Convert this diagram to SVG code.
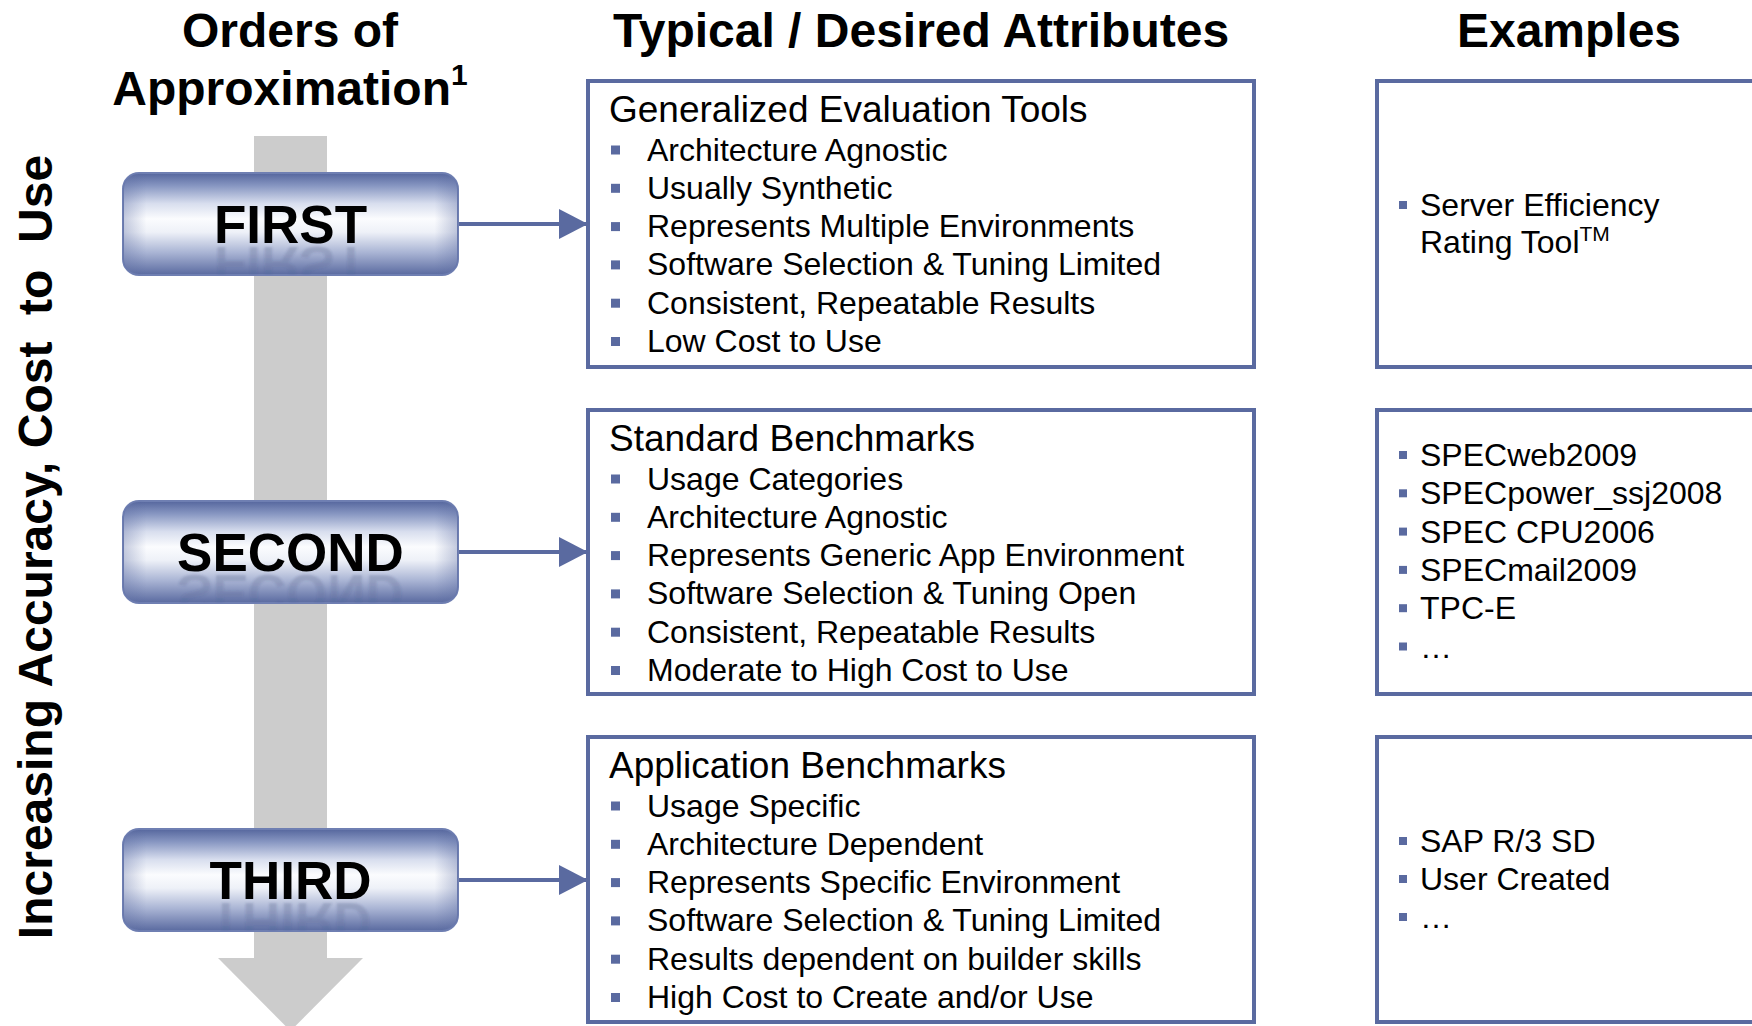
<svg xmlns="http://www.w3.org/2000/svg" width="1752" height="1026" viewBox="0 0 1752 1026">
<defs>
<style>
text{font-family:"Liberation Sans",Arial,Helvetica,sans-serif;fill:#000}
.hdr{font-weight:bold;font-size:48px;text-anchor:middle}
.side{font-weight:bold;font-size:48px;text-anchor:middle;white-space:pre}
.lvl{font-weight:bold;font-size:53px;text-anchor:middle}
.refl{fill:#3a4670;opacity:0.3}
.ttl{font-size:37px}
.itm{font-size:32px}
.ex{font-size:32px}
.box{fill:#fff;stroke:#5a6aa0;stroke-width:4}
.blt{fill:#5a6aa0}
.conn{stroke:#5a6aa0;stroke-width:4;fill:none}
.btn{fill:url(#btnV);stroke:#6f7fb2;stroke-width:2}
</style>
<linearGradient id="btnV" x1="0" y1="0" x2="0" y2="1">
<stop offset="0" stop-color="#55669d"/>
<stop offset="0.12" stop-color="#8594c0"/>
<stop offset="0.3" stop-color="#d8deee"/>
<stop offset="0.45" stop-color="#fbfcfe"/>
<stop offset="0.58" stop-color="#eef1f8"/>
<stop offset="0.78" stop-color="#a9b4d4"/>
<stop offset="1" stop-color="#5a6aa0"/>
</linearGradient>
<linearGradient id="btnH" x1="0" y1="0" x2="1" y2="0">
<stop offset="0" stop-color="#5a6aa0" stop-opacity="0.35"/>
<stop offset="0.07" stop-color="#5a6aa0" stop-opacity="0"/>
<stop offset="0.93" stop-color="#5a6aa0" stop-opacity="0"/>
<stop offset="1" stop-color="#5a6aa0" stop-opacity="0.35"/>
</linearGradient>
<linearGradient id="fadeG" x1="0" y1="1" x2="0" y2="0">
<stop offset="0" stop-color="#fff" stop-opacity="1"/>
<stop offset="0.75" stop-color="#fff" stop-opacity="0"/>
</linearGradient>
<mask id="fade" maskContentUnits="objectBoundingBox">
<rect x="0" y="0" width="1" height="1" fill="url(#fadeG)"/>
</mask>
<filter id="soft" x="-5%" y="-20%" width="110%" height="140%">
<feGaussianBlur stdDeviation="0.9"/>
</filter>
<clipPath id="btnClip">
<rect x="0" y="0" width="335" height="102" rx="16"/>
</clipPath>
<marker id="ah" markerUnits="userSpaceOnUse" markerWidth="30" markerHeight="32" refX="28" refY="15" orient="auto">
<path d="M0,0 L29,15 L0,30 Z" fill="#5a6aa0"/>
</marker>
</defs>

<rect width="1752" height="1026" fill="#fff"/>

<g id="headers">
<text class="hdr" x="290" y="47">Orders of</text>
<text class="hdr" x="290" y="105">Approximation<tspan font-size="30" dy="-20">1</tspan></text>
<text class="hdr" x="921" y="47">Typical / Desired Attributes</text>
<text class="hdr" x="1569" y="47">Examples</text>
</g>

<g id="side-label">
<text class="side" transform="translate(52,547) rotate(-90)" x="0" y="0">Increasing Accuracy, Cost  to  Use</text>
</g>

<g id="progress-arrow">
<rect x="254" y="136" width="73" height="823" fill="#cccccc"/>
<polygon points="218,958 363,958 290.5,1031" fill="#cccccc"/>
</g>

<g id="connectors">
<line class="conn" x1="458" y1="224" x2="587" y2="224" marker-end="url(#ah)"/>
<line class="conn" x1="458" y1="552" x2="587" y2="552" marker-end="url(#ah)"/>
<line class="conn" x1="458" y1="880" x2="587" y2="880" marker-end="url(#ah)"/>
</g>

<g id="node-first" transform="translate(123,173)">
<rect class="btn" x="0" y="0" width="335" height="102" rx="16"/>
<g clip-path="url(#btnClip)">
<rect x="0" y="0" width="335" height="102" fill="url(#btnH)"/>
<g filter="url(#soft)"><text class="lvl refl" x="167.5" y="70" transform="matrix(1,0,0,-1,0,144)" mask="url(#fade)" aria-hidden="true">FIRST</text></g>
</g>
<text class="lvl" x="167.5" y="70">FIRST</text>
</g>

<g id="node-second" transform="translate(123,501)">
<rect class="btn" x="0" y="0" width="335" height="102" rx="16"/>
<g clip-path="url(#btnClip)">
<rect x="0" y="0" width="335" height="102" fill="url(#btnH)"/>
<g filter="url(#soft)"><text class="lvl refl" x="167.5" y="70" transform="matrix(1,0,0,-1,0,144)" mask="url(#fade)" aria-hidden="true">SECOND</text></g>
</g>
<text class="lvl" x="167.5" y="70">SECOND</text>
</g>

<g id="node-third" transform="translate(123,829)">
<rect class="btn" x="0" y="0" width="335" height="102" rx="16"/>
<g clip-path="url(#btnClip)">
<rect x="0" y="0" width="335" height="102" fill="url(#btnH)"/>
<g filter="url(#soft)"><text class="lvl refl" x="167.5" y="70" transform="matrix(1,0,0,-1,0,144)" mask="url(#fade)" aria-hidden="true">THIRD</text></g>
</g>
<text class="lvl" x="167.5" y="70">THIRD</text>
</g>

<g id="attr-first">
<rect class="box" x="588" y="81" width="666" height="286"/>
<text class="ttl" x="609" y="122">Generalized Evaluation Tools</text>
<rect class="blt" x="611" y="145.5" width="9" height="9"/>
<rect class="blt" x="611" y="183.8" width="9" height="9"/>
<rect class="blt" x="611" y="222.1" width="9" height="9"/>
<rect class="blt" x="611" y="260.4" width="9" height="9"/>
<rect class="blt" x="611" y="298.7" width="9" height="9"/>
<rect class="blt" x="611" y="337" width="9" height="9"/>
<text class="itm" x="647" y="160.5">Architecture Agnostic</text>
<text class="itm" x="647" y="198.8">Usually Synthetic</text>
<text class="itm" x="647" y="237.1">Represents Multiple Environments</text>
<text class="itm" x="647" y="275.4">Software Selection &amp; Tuning Limited</text>
<text class="itm" x="647" y="313.7">Consistent, Repeatable Results</text>
<text class="itm" x="647" y="352">Low Cost to Use</text>
</g>

<g id="attr-second">
<rect class="box" x="588" y="410" width="666" height="284"/>
<text class="ttl" x="609" y="451">Standard Benchmarks</text>
<rect class="blt" x="611" y="474.5" width="9" height="9"/>
<rect class="blt" x="611" y="512.8" width="9" height="9"/>
<rect class="blt" x="611" y="551.1" width="9" height="9"/>
<rect class="blt" x="611" y="589.4" width="9" height="9"/>
<rect class="blt" x="611" y="627.7" width="9" height="9"/>
<rect class="blt" x="611" y="666" width="9" height="9"/>
<text class="itm" x="647" y="489.5">Usage Categories</text>
<text class="itm" x="647" y="527.8">Architecture Agnostic</text>
<text class="itm" x="647" y="566.1">Represents Generic App Environment</text>
<text class="itm" x="647" y="604.4">Software Selection &amp; Tuning Open</text>
<text class="itm" x="647" y="642.7">Consistent, Repeatable Results</text>
<text class="itm" x="647" y="681">Moderate to High Cost to Use</text>
</g>

<g id="attr-third">
<rect class="box" x="588" y="737" width="666" height="285"/>
<text class="ttl" x="609" y="778">Application Benchmarks</text>
<rect class="blt" x="611" y="801.5" width="9" height="9"/>
<rect class="blt" x="611" y="839.8" width="9" height="9"/>
<rect class="blt" x="611" y="878.1" width="9" height="9"/>
<rect class="blt" x="611" y="916.4" width="9" height="9"/>
<rect class="blt" x="611" y="954.7" width="9" height="9"/>
<rect class="blt" x="611" y="993" width="9" height="9"/>
<text class="itm" x="647" y="816.5">Usage Specific</text>
<text class="itm" x="647" y="854.8">Architecture Dependent</text>
<text class="itm" x="647" y="893.1">Represents Specific Environment</text>
<text class="itm" x="647" y="931.4">Software Selection &amp; Tuning Limited</text>
<text class="itm" x="647" y="969.7">Results dependent on builder skills</text>
<text class="itm" x="647" y="1008">High Cost to Create and/or Use</text>
</g>

<g id="examples-first">
<rect class="box" x="1377" y="81" width="420" height="286"/>
<rect class="blt" x="1399" y="201" width="8" height="8"/>
<text class="ex" x="1420" y="216">Server Efficiency</text>
<text class="ex" x="1420" y="253">Rating Tool<tspan font-size="21" dy="-12">TM</tspan></text>
</g>

<g id="examples-second">
<rect class="box" x="1377" y="410" width="420" height="284"/>
<rect class="blt" x="1399" y="451" width="8" height="8"/>
<rect class="blt" x="1399" y="489.3" width="8" height="8"/>
<rect class="blt" x="1399" y="527.6" width="8" height="8"/>
<rect class="blt" x="1399" y="565.9" width="8" height="8"/>
<rect class="blt" x="1399" y="604.2" width="8" height="8"/>
<rect class="blt" x="1399" y="642.5" width="8" height="8"/>
<text class="ex" x="1420" y="466">SPECweb2009</text>
<text class="ex" x="1420" y="504.3">SPECpower_ssj2008</text>
<text class="ex" x="1420" y="542.6">SPEC CPU2006</text>
<text class="ex" x="1420" y="580.9">SPECmail2009</text>
<text class="ex" x="1420" y="619.2">TPC-E</text>
<text class="ex" x="1420" y="657.5">…</text>
</g>

<g id="examples-third">
<rect class="box" x="1377" y="737" width="420" height="285"/>
<rect class="blt" x="1399" y="837" width="8" height="8"/>
<rect class="blt" x="1399" y="875" width="8" height="8"/>
<rect class="blt" x="1399" y="913" width="8" height="8"/>
<text class="ex" x="1420" y="852">SAP R/3 SD</text>
<text class="ex" x="1420" y="890">User Created</text>
<text class="ex" x="1420" y="928">…</text>
</g>
</svg>
